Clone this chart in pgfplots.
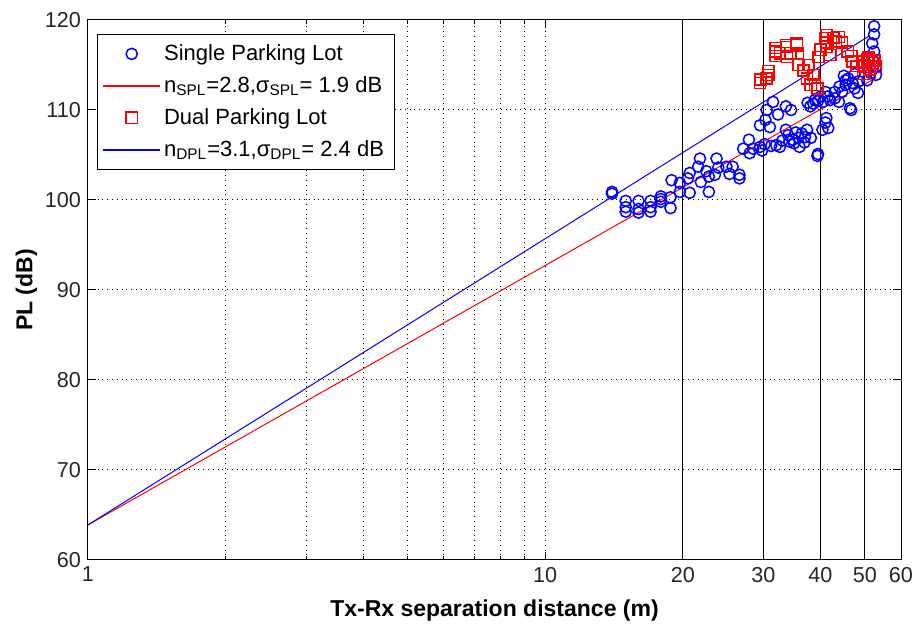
\documentclass[border=0pt]{standalone}
\usepackage{fontspec}
\setmainfont{Liberation Sans}
\usepackage{pgfplots}
\pgfplotsset{compat=1.18}

% measured points (Tx-Rx distance in m, path loss in dB)
\pgfplotstableread{
x y
14.0 100.9
14.0 100.7
15.0 99.9
15.0 99.2
15.0 98.7
16.0 99.9
16.0 99.0
16.0 98.6
17.0 99.9
17.0 99.2
17.0 98.7
17.9 100.4
17.9 99.8
17.9 100.1
18.8 100.3
18.8 99.1
18.9 102.2
19.7 101.9
19.7 100.9
20.7 103.0
20.7 100.8
20.5 102.4
21.8 104.6
21.6 103.7
21.9 102.0
22.8 100.9
22.8 102.6
22.5 103.2
23.7 104.6
23.9 103.6
23.5 102.8
24.9 103.7
25.7 103.7
25.3 102.9
26.6 102.8
26.6 102.4
27.1 105.7
27.9 106.7
28.5 105.7
28.0 105.2
29.5 105.9
29.5 108.3
29.8 105.5
30.3 108.9
30.5 110.0
30.2 106.2
31.5 110.9
31.0 108.1
31.2 106.0
32.0 106.1
32.6 105.9
32.3 109.5
33.6 107.8
33.6 110.4
34.5 110.0
34.2 106.5
34.8 106.7
35.8 106.9
35.3 107.5
36.4 107.4
37.4 107.8
38.1 106.9
36.9 106.4
33.0 106.6
34.0 107.2
35.0 106.3
36.0 105.9
37.0 107.0
38.6 110.7
38.9 111.1
39.4 104.9
39.5 105.1
40.0 111.5
41.0 112.0
41.2 109.1
41.6 108.0
42.0 111.1
43.0 111.3
43.9 110.9
44.6 112.0
45.4 113.3
45.4 112.8
46.4 110.2
46.7 110.0
47.0 113.0
47.5 112.4
48.3 111.9
44.0 112.6
45.0 113.8
46.0 113.5
47.5 114.0
48.5 113.2
43.0 112.0
41.5 111.5
40.5 110.9
39.5 111.0
38.0 110.4
37.5 110.8
40.4 107.8
41.0 108.6
50.6 113.3
51.5 114.1
51.9 115.6
52.4 119.3
52.4 118.4
51.9 117.4
52.4 116.5
52.9 113.9
52.9 114.8
}\singlelot

\pgfplotstableread{
x y
29.5 113.0
29.6 113.4
30.5 113.5
30.8 114.3
30.8 113.9
31.9 116.5
31.9 116.0
31.9 116.9
32.6 116.3
33.6 117.0
33.6 117.2
33.8 115.9
34.4 116.3
35.5 117.2
35.5 117.4
35.7 116.3
35.8 115.0
36.7 114.4
37.6 115.0
37.4 113.5
38.1 112.8
38.6 113.9
38.9 112.8
39.4 112.4
39.6 115.9
40.0 116.7
41.0 118.0
41.2 118.3
41.4 117.5
41.2 117.0
42.0 116.1
42.7 118.0
43.2 117.6
43.9 118.1
44.6 117.5
45.9 116.5
46.7 116.0
47.0 115.4
48.0 114.9
49.3 115.4
49.6 114.8
50.6 115.6
51.2 114.5
51.9 115.2
52.9 114.8
49.6 114.0
50.0 115.0
51.0 115.8
52.5 115.5
}\duallot

\begin{document}
\begin{tikzpicture}
\begin{axis}[
  scale only axis,
  width=406.5pt, height=270pt,
  xmode=log,
  xmin=1, xmax=60,
  ymin=60, ymax=120,
  xtick={1,10,60},
  xticklabels={1,10,60},
  minor xtick={2,3,4,5,6,7,8,9},
  extra x ticks={20,30,40,50},
  extra x tick labels={20,30,40,50},
  extra x tick style={grid=major, major grid style={solid, black, line width=0.6pt}},
  ytick={60,70,...,120},
  xmajorgrids, xminorgrids, ymajorgrids,
  major grid style={dotted, black, line width=0.5pt},
  minor grid style={dotted, black, line width=0.5pt},
  tick align=inside,
  major tick length=4pt,
  minor tick length=2pt,
  axis line style={line width=0.5pt},
  every tick/.style={black, line width=0.5pt},
  /pgf/number format/assume math mode=true,
  ticklabel style={font=\fontsize{10.8}{12}\selectfont, text=black!85},
  xlabel={\bfseries Tx-Rx separation distance (m)},
  ylabel={\bfseries PL (dB)},
  label style={font=\fontsize{11.5}{13}\selectfont},
  xlabel style={yshift=-2pt},
  ylabel style={yshift=-3pt},
  legend cell align=left,
  legend style={at={(0.011,0.974)}, anchor=north west,
    font=\fontsize{11}{13}\selectfont, row sep=2.5pt, inner xsep=3pt, inner ysep=3pt},
]
\addplot[only marks, mark=o, blue, mark size=2.8pt, mark options={line width=0.75pt, draw=blue},
  legend image code/.code={\draw[draw=blue, line width=0.75pt] (0.49cm,0cm) circle (2.8pt);}]
  table {\singlelot};
\addlegendentry{Single Parking Lot}
\addplot[color=red, line width=0.5pt,
  legend image code/.code={\fill[red] (0cm,-0.35pt) rectangle (0.98cm,0.35pt);}]
  coordinates {(1,63.9) (53,113.6)};
\addlegendentry{n\textsubscript{SPL}=2.8,σ\textsubscript{SPL}= 1.9 dB}
\addplot[only marks, mark=square, red, mark size=2.8pt, mark options={line width=0.75pt, draw=red},
  legend image code/.code={\draw[draw=red, line width=0.75pt] (0.49cm-2.8pt,-2.8pt) rectangle (0.49cm+2.8pt,2.8pt);}]
  table {\duallot};
\addlegendentry{Dual Parking Lot}
\addplot[color=blue, line width=0.5pt,
  legend image code/.code={\fill[blue] (0cm,-0.35pt) rectangle (0.98cm,0.35pt);}]
  coordinates {(1,63.9) (51,118.2)};
\addlegendentry{n\textsubscript{DPL}=3.1,σ\textsubscript{DPL}= 2.4 dB}
\end{axis}
\pgfresetboundingbox
\path[use as bounding box] ([shift={(-44pt,-32.5pt)}]current axis.south west) rectangle ([shift={(5.5pt,10pt)}]current axis.north east);
\end{tikzpicture}
\end{document}
